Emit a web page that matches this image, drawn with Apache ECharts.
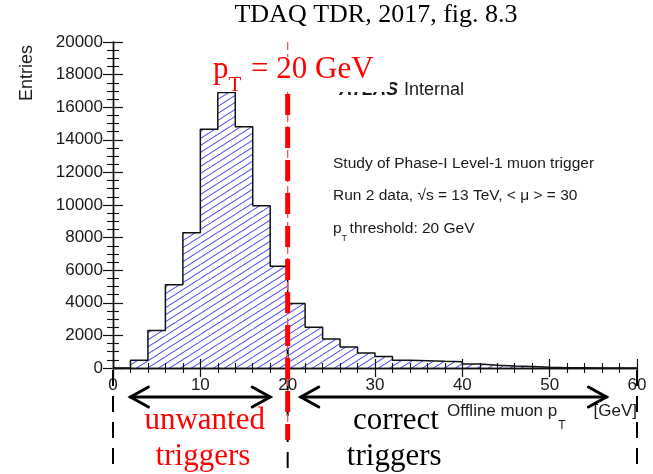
<!DOCTYPE html>
<html>
<head>
<meta charset="utf-8">
<script src="https://cdn.jsdelivr.net/npm/echarts@6/dist/echarts.min.js"></script>
<style>
  html, body { margin: 0; padding: 0; background: #ffffff; }
  #chart { width: 653px; height: 474px; }
</style>
</head>
<body>
<div id="chart"></div>
<script>
// Offline muon pT distribution, 2 GeV bins from 0 to 60 GeV
const binLow = [0, 2, 4, 6, 8, 10, 12, 14, 16, 18, 20, 22, 24, 26, 28,
                30, 32, 34, 36, 38, 40, 42, 44, 46, 48, 50, 52, 54, 56, 58];
const binWidth = 2;
const entries = [0, 480, 2300, 5100, 8300, 14650, 16900, 14800, 9950, 6250,
                 3950, 2500, 1780, 1290, 920, 700, 480, 450, 410, 380,
                 250, 170, 120, 90, 40, 20, 10, 0, 0, 0];

const xRange = [0, 60];
const xTickStep = 10;
const yRange = [0, 20000];
const yTickStep = 2000;

const threshold = 20;                 // GeV
const unwantedSpan = [2.0, 18.0];     // arrow under the axis, GeV
const correctSpan = [21.5, 56.5];

const chart = echarts.init(document.getElementById('chart'), null, { renderer: 'canvas' });

// diagonal hatch tile for the histogram fill
function hatchTile() {
  const w = 11, h = 7;
  const c = document.createElement('canvas');
  c.width = w; c.height = h;
  const g = c.getContext('2d');
  g.strokeStyle = '#4646f0';
  g.lineWidth = 1.05;
  for (let k = -1; k <= 1; k++) {
    g.beginPath();
    g.moveTo(k * w, h);
    g.lineTo((k + 1) * w, 0);
    g.stroke();
  }
  return c;
}
const hatch = { image: hatchTile(), repeat: 'repeat' };

const measureCtx = document.createElement('canvas').getContext('2d');
function textWidth(str, font) {
  measureCtx.font = font;
  return measureCtx.measureText(str).width;
}

const sans = '"Liberation Sans", Arial, Helvetica, sans-serif';
const serif = '"Liberation Serif", "Times New Roman", Times, serif';

const histData = binLow.map((lo, i) => [lo, lo + binWidth, entries[i]]);
const outline = binLow.map((lo, i) => [lo, entries[i]]);
outline.push([binLow[binLow.length - 1] + binWidth, entries[entries.length - 1]]);

const plain = v => String(v);

function xAxisDef(pos, labels) {
  return {
    type: 'value', min: xRange[0], max: xRange[1], interval: xTickStep,
    position: pos,
    axisLine: { lineStyle: { color: '#111', width: 1.4 } },
    axisTick: { inside: true, length: 9, lineStyle: { color: '#111', width: 1.2 } },
    minorTick: { show: true, splitNumber: 5, length: 5, lineStyle: { color: '#111', width: 1.1 } },
    axisLabel: labels
      ? { margin: 9, fontFamily: sans, fontSize: 17, color: '#1a1a1a', formatter: plain }
      : { show: false },
    splitLine: { show: false },
    z: 5
  };
}
function yAxisDef(pos, labels) {
  return {
    type: 'value', min: yRange[0], max: yRange[1], interval: yTickStep,
    position: pos,
    axisLine: { show: true, lineStyle: { color: '#111', width: 1.4 } },
    axisTick: { show: true, inside: true, length: 10, lineStyle: { color: '#111', width: 1.2 } },
    minorTick: { show: true, splitNumber: 4, length: 6, lineStyle: { color: '#111', width: 1.1 } },
    axisLabel: labels
      ? { margin: 10, fontFamily: sans, fontSize: 17, color: '#1a1a1a', formatter: plain }
      : { show: false },
    splitLine: { show: false },
    z: 5
  };
}

const option = {
  animation: false,
  backgroundColor: '#ffffff',
  grid: { left: 113, top: 42, width: 524, height: 326, containLabel: false },
  xAxis: [xAxisDef('bottom', true), xAxisDef('top', false)],
  yAxis: [yAxisDef('left', true), yAxisDef('right', false)],
  series: [
    {
      type: 'custom',
      xAxisIndex: 0, yAxisIndex: 0,
      encode: { x: [0, 1], y: 2 },
      data: histData,
      z: 2,
      renderItem(params, api) {
        const top = api.coord([api.value(0), api.value(2)]);
        const bot = api.coord([api.value(1), 0]);
        return {
          type: 'rect',
          shape: { x: top[0], y: top[1], width: bot[0] - top[0], height: bot[1] - top[1] },
          style: { fill: hatch, stroke: null }
        };
      }
    },
    {
      type: 'line',
      xAxisIndex: 0, yAxisIndex: 0,
      data: outline,
      step: 'end',
      symbol: 'none',
      lineStyle: { color: '#111', width: 1.5 },
      z: 3
    }
  ]
};
chart.setOption(option);

// annotations placed from axis coordinates
const px = v => chart.convertToPixel({ xAxisIndex: 0 }, v);
const py = v => chart.convertToPixel({ yAxisIndex: 0 }, v);
const xThr = px(threshold);
const yTop = py(yRange[1]);
const yBase = py(0);
const xLeft = px(xRange[0]);
const xRight = px(xRange[1]);
const arrowY = yBase + 29;
const bottomY = 474;

function arrow(x1, x2, y) {
  const hx = 18, hy = 10;
  const st = { stroke: '#000', lineWidth: 3, fill: null, lineCap: 'round', lineJoin: 'miter' };
  return [
    { type: 'polyline', shape: { points: [[x1, y], [x2, y]] }, style: st, z: 20 },
    { type: 'polyline', shape: { points: [[x1 + hx, y - hy], [x1, y], [x1 + hx, y + hy]] }, style: st, z: 20 },
    { type: 'polyline', shape: { points: [[x2 - hx, y - hy], [x2, y], [x2 - hx, y + hy]] }, style: st, z: 20 }
  ];
}

const fRed = '31px ' + serif;
const fRedSub = '21px ' + serif;
const pW = textWidth('p', fRed);
const tW = textWidth('T', fRedSub);
const redX = 213, redBase = 85;

const infoFont = '15.5px ' + sans;
const infoX = 333;
const pInfoW = textWidth('p', infoFont);

const axName = '17px ' + sans;
const axNameX = 447, axNameBase = 420;
const axPW = textWidth('Offline muon p', axName);

const graphics = [
  // title
  { type: 'text', x: 376, y: 15, z: 30,
    style: { text: 'TDAQ TDR, 2017, fig. 8.3', font: '26px ' + serif, fill: '#000',
             textAlign: 'center', textVerticalAlign: 'middle' } },
  // y axis title
  { type: 'text', x: 27, y: 45, rotation: Math.PI / 2, z: 30,
    style: { text: 'Entries', font: '18px ' + sans, fill: '#1a1a1a',
             textAlign: 'right', textVerticalAlign: 'middle' } },
  // x axis title
  { type: 'text', x: axNameX, y: axNameBase, z: 30,
    style: { text: 'Offline muon p', font: axName, fill: '#1a1a1a', textAlign: 'left', textVerticalAlign: 'bottom' } },
  { type: 'text', x: axNameX + axPW + 1, y: axNameBase + 12, z: 30,
    style: { text: 'T', font: '12px ' + sans, fill: '#1a1a1a', textAlign: 'left', textVerticalAlign: 'bottom' } },
  { type: 'text', x: xRight, y: axNameBase, z: 30,
    style: { text: '[GeV]', font: axName, fill: '#1a1a1a', textAlign: 'right', textVerticalAlign: 'bottom' } },

  // ATLAS label and study text
  { type: 'text', x: 398, y: 99, z: 10,
    style: { text: 'ATLAS', font: 'italic bold 18px ' + sans, fill: '#1a1a1a', textAlign: 'right', textVerticalAlign: 'bottom' } },
  { type: 'text', x: 404, y: 99, z: 10,
    style: { text: 'Internal', font: '18px ' + sans, fill: '#1a1a1a', textAlign: 'left', textVerticalAlign: 'bottom' } },
  { type: 'text', x: infoX, y: 172, z: 10,
    style: { text: 'Study of Phase-I Level-1 muon trigger', font: infoFont, fill: '#1a1a1a', textVerticalAlign: 'bottom' } },
  { type: 'text', x: infoX, y: 204, z: 10,
    style: { text: 'Run 2 data, \u221As = 13 TeV, < \u03BC > = 30', font: infoFont, fill: '#1a1a1a', textVerticalAlign: 'bottom' } },
  { type: 'text', x: infoX, y: 237, z: 10,
    style: { text: 'p', font: infoFont, fill: '#1a1a1a', textVerticalAlign: 'bottom' } },
  { type: 'text', x: infoX + pInfoW, y: 243, z: 10,
    style: { text: 'T', font: '9px ' + sans, fill: '#1a1a1a', textVerticalAlign: 'bottom' } },
  { type: 'text', x: infoX + pInfoW + 8, y: 237, z: 10,
    style: { text: 'threshold: 20 GeV', font: infoFont, fill: '#1a1a1a', textVerticalAlign: 'bottom' } },

  // black dashed guides below the axis
  { type: 'line', z: 15, shape: { x1: xLeft, y1: yBase + 2, x2: xLeft, y2: bottomY },
    style: { stroke: '#000', lineWidth: 2, lineDash: [16, 10] } },
  { type: 'line', z: 15, shape: { x1: xThr, y1: yBase - 20, x2: xThr, y2: bottomY },
    style: { stroke: '#000', lineWidth: 2, lineDash: [16, 10] } },
  { type: 'line', z: 15, shape: { x1: xRight, y1: yBase + 2, x2: xRight, y2: bottomY },
    style: { stroke: '#000', lineWidth: 2, lineDash: [16, 10] } },

  // threshold line
  { type: 'line', z: 16, shape: { x1: xThr, y1: yTop, x2: xThr, y2: yBase + 72 },
    style: { stroke: '#ff5050', lineWidth: 1.3, lineDash: [8, 4] } },
  { type: 'line', z: 17, shape: { x1: xThr, y1: yTop + 52, x2: xThr, y2: yBase + 72 },
    style: { stroke: '#ff0000', lineWidth: 5, lineDash: [21, 12] } },

  // white box behind the threshold label
  { type: 'rect', z: 18, shape: { x: 205, y: 57, width: 185, height: 35 },
    style: { fill: '#ffffff' } },
  { type: 'text', x: redX, y: redBase, z: 19,
    style: { text: 'p', font: fRed, fill: '#ff0000', textVerticalAlign: 'bottom' } },
  { type: 'text', x: redX + pW, y: redBase + 11, z: 19,
    style: { text: 'T', font: fRedSub, fill: '#ff0000', textVerticalAlign: 'bottom' } },
  { type: 'text', x: redX + pW + tW + 2, y: redBase, z: 19,
    style: { text: ' = 20 GeV', font: fRed, fill: '#ff0000', textVerticalAlign: 'bottom' } },

  // region labels
  { type: 'text', x: px(10.5), y: 421, z: 30,
    style: { text: 'unwanted', font: '31px ' + serif, fill: '#ff0000', textAlign: 'center', textVerticalAlign: 'middle' } },
  { type: 'text', x: px(10.3), y: 457, z: 30,
    style: { text: 'triggers', font: '31px ' + serif, fill: '#ff0000', textAlign: 'center', textVerticalAlign: 'middle' } },
  { type: 'text', x: px(32.4), y: 421, z: 30,
    style: { text: 'correct', font: '31px ' + serif, fill: '#000', textAlign: 'center', textVerticalAlign: 'middle' } },
  { type: 'text', x: px(32.2), y: 457, z: 30,
    style: { text: 'triggers', font: '31px ' + serif, fill: '#000', textAlign: 'center', textVerticalAlign: 'middle' } }
]
  .concat(arrow(px(unwantedSpan[0]), px(unwantedSpan[1]), arrowY))
  .concat(arrow(px(correctSpan[0]), px(correctSpan[1]), arrowY));

chart.setOption({ graphic: graphics });
</script>
</body>
</html>
